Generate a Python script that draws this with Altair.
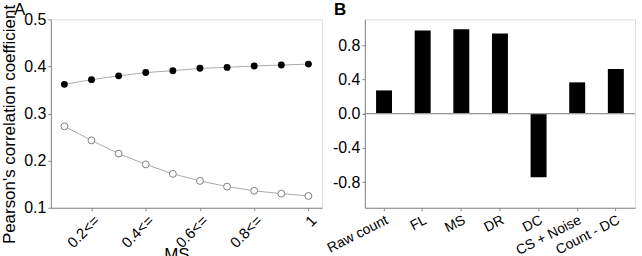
import altair as alt
import pandas as pd

# ---- data ----
ms_x = [0.1, 0.2, 0.3, 0.4, 0.5, 0.6, 0.7, 0.8, 0.9, 1.0]
filled_vals = [0.362, 0.372, 0.380, 0.387, 0.391, 0.396, 0.398, 0.401, 0.403, 0.405]
open_vals = [0.273, 0.243, 0.215, 0.192, 0.172, 0.157, 0.145, 0.136, 0.130, 0.125]
a_tick_vals = [0.2, 0.4, 0.6, 0.8, 1.0]
a_tick_labels = ["0.2<=", "0.4<=", "0.6<=", "0.8<=", "1"]

bar_cats = ["Raw count", "FL", "MS", "DR", "DC", "CS + Noise", "Count - DC"]
bar_vals = [0.27, 0.97, 0.984, 0.934, -0.744, 0.364, 0.519]

panel_labels = ["A", "B"]

FONT = "Liberation Sans"
GRAY = "#9a9a9a"

df_a = pd.DataFrame({
    "x": ms_x * 2,
    "y": filled_vals + open_vals,
    "series": ["filled"] * len(ms_x) + ["open"] * len(ms_x),
})
df_b = pd.DataFrame({"cat": bar_cats, "val": bar_vals})

label_map = "{" + ",".join(f"'{v:.1f}':'{l}'" for v, l in zip(a_tick_vals, a_tick_labels)) + "}"

xa = alt.X("x:Q",
           scale=alt.Scale(domain=[0.05, 1.05], nice=False, zero=False),
           axis=alt.Axis(values=a_tick_vals, labelAngle=-45,
                         labelExpr=f"{label_map}[format(datum.value, '.1f')]",
                         title="MS", titleX=126, titleY=52, titleBaseline="alphabetic",
                         titleFontSize=17, titleFontWeight="normal", grid=False,
                         tickSize=3, labelFontSize=15))
ya = alt.Y("y:Q",
           scale=alt.Scale(domain=[0.1, 0.5], nice=False, zero=False),
           axis=alt.Axis(values=[0.1, 0.2, 0.3, 0.4, 0.5], format=".1f",
                         title="Pearson's correlation coefficient",
                         titleX=-36, titleY=105, titleBaseline="alphabetic",
                         titleFontSize=17, titleFontWeight="normal", grid=False,
                         tickSize=3, labelFontSize=16))

base_a = alt.Chart(df_a)
line_a = base_a.mark_line(color="#aaaaaa", strokeWidth=1).encode(x=xa, y=ya, detail="series:N")
pts_filled = base_a.transform_filter("datum.series == 'filled'").mark_point(
    filled=True, color="black", size=48, opacity=1).encode(x=xa, y=ya)
pts_open = base_a.transform_filter("datum.series == 'open'").mark_point(
    filled=True, fill="white", stroke="#808080", strokeWidth=1, size=48, opacity=1).encode(x=xa, y=ya)
lab_a = alt.Chart(pd.DataFrame({"t": [panel_labels[0]]})).mark_text(
    font=FONT, fontSize=17, align="left", baseline="bottom", color="black").encode(
    text="t:N", x=alt.value(-37), y=alt.value(0))

chart_a = alt.layer(line_a, pts_filled, pts_open, lab_a).properties(width=272, height=189)

xb = alt.X("cat:N", sort=bar_cats,
           scale=alt.Scale(paddingInner=0.587, paddingOuter=0.29),
           axis=alt.Axis(title=None, labelAngle=-27, labelFontSize=14, tickSize=3, grid=False))
yb = alt.Y("val:Q",
           scale=alt.Scale(domain=[-1.1, 1.1], nice=False, zero=False),
           axis=alt.Axis(values=[-0.8, -0.4, 0.0, 0.4, 0.8], title=None,
                         labelExpr="replace(format(datum.value, '.1f'), '\u2212', '-')",
                         tickSize=3, labelFontSize=16, grid=False))

bars = alt.Chart(df_b).mark_bar(color="black").encode(x=xb, y=yb)
zero = alt.Chart(df_b).mark_rule(color=GRAY, strokeWidth=1).encode(y=alt.datum(0))
lab_b = alt.Chart(pd.DataFrame({"t": [panel_labels[1]]})).mark_text(
    font=FONT, fontSize=17, fontWeight="bold", align="left", baseline="bottom", color="black").encode(
    text="t:N", x=alt.value(-31), y=alt.value(0))

chart_b = alt.layer(bars, zero, lab_b).properties(width=271, height=189)

chart = alt.hconcat(chart_a, chart_b, spacing=43, bounds="flush").properties(
    padding={"left": 0, "top": 0, "right": 6, "bottom": -6},
).configure_view(stroke=GRAY, strokeWidth=1).configure_axis(
    labelFont=FONT, titleFont=FONT, labelColor="black", titleColor="black",
    domainColor=GRAY, tickColor=GRAY, labelPadding=2,
).configure(background="white")

chart.save("out.html", embed_options={"renderer": "svg", "actions": False})
